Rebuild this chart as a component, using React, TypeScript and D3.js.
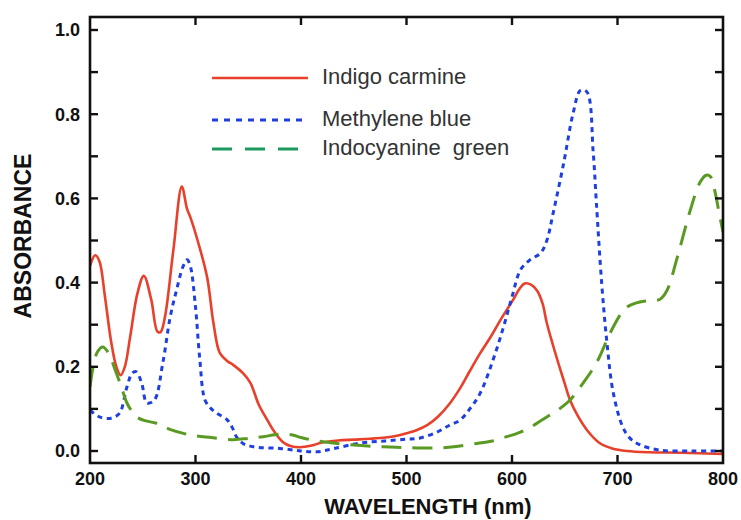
import React from "react";
import * as d3 from "d3";

// Indigo carmine absorbance spectrum
const indigoWl = [200, 205, 209, 214, 220, 225, 229, 233, 238, 245, 251, 258, 264, 267, 271, 279, 287, 292, 295, 302, 311, 317, 323, 330, 336, 345, 352, 360, 368, 375, 383, 390, 399, 410, 420, 435, 450, 465, 480, 492, 500, 510, 520, 530, 541, 551, 560, 570, 580, 589, 601, 607, 612, 618, 624, 629, 633, 639, 645, 650, 655, 662, 671, 683, 695, 709, 730, 760, 800];
const indigoAbs = [0.44, 0.465, 0.45, 0.37, 0.26, 0.2, 0.18, 0.2, 0.27, 0.375, 0.416, 0.36, 0.283, 0.283, 0.318, 0.477, 0.628, 0.575, 0.556, 0.5, 0.413, 0.304, 0.233, 0.214, 0.204, 0.185, 0.162, 0.11, 0.074, 0.045, 0.021, 0.012, 0.009, 0.013, 0.02, 0.025, 0.027, 0.029, 0.032, 0.037, 0.042, 0.05, 0.062, 0.082, 0.113, 0.15, 0.19, 0.233, 0.272, 0.311, 0.359, 0.385, 0.398, 0.395, 0.38, 0.35, 0.304, 0.25, 0.2, 0.16, 0.121, 0.085, 0.05, 0.019, 0.006, 0.0, -0.003, -0.004, -0.007];

// Methylene blue absorbance spectrum
const methyleneWl = [200, 209, 220, 228, 235, 240, 244, 249, 254, 261, 269, 276, 282, 288, 292, 295, 300, 304, 309, 315, 320, 330, 335, 339, 345, 355, 380, 400, 415, 430, 456, 480, 500, 513, 529, 540, 551, 560, 570, 582, 592, 600, 608, 617, 627, 633, 639, 649, 658, 665, 671, 677, 680, 685, 690, 696, 705, 712, 721, 740, 770, 800];
const methyleneAbs = [0.097, 0.081, 0.078, 0.09, 0.152, 0.185, 0.188, 0.161, 0.114, 0.121, 0.209, 0.318, 0.382, 0.437, 0.454, 0.44, 0.342, 0.22, 0.121, 0.1, 0.09, 0.074, 0.055, 0.033, 0.018, 0.01, 0.006, 0.0, -0.002, 0.005, 0.019, 0.024, 0.028, 0.031, 0.045, 0.06, 0.074, 0.1, 0.138, 0.216, 0.295, 0.366, 0.43, 0.454, 0.47, 0.5, 0.565, 0.684, 0.803, 0.857, 0.853, 0.708, 0.589, 0.399, 0.257, 0.138, 0.057, 0.03, 0.015, 0.002, 0.0, 0.0];

// Indocyanine green absorbance spectrum
const icgWl = [200, 203, 207, 212, 217, 224, 230, 235, 240, 244, 252, 263, 275, 295, 315, 336, 350, 364, 380, 392, 400, 415, 430, 450, 478, 500, 525, 545, 567, 580, 595, 608, 620, 633, 645, 655, 667, 680, 693, 703, 709, 721, 733, 740, 747, 756, 769, 778, 784, 788, 792, 796, 800];
const icgAbs = [0.152, 0.2, 0.235, 0.247, 0.235, 0.192, 0.15, 0.114, 0.093, 0.081, 0.072, 0.066, 0.052, 0.038, 0.032, 0.027, 0.03, 0.034, 0.04, 0.038, 0.032, 0.024, 0.019, 0.014, 0.01, 0.008, 0.007, 0.01, 0.018, 0.023, 0.034, 0.045, 0.06, 0.081, 0.1, 0.121, 0.16, 0.209, 0.28, 0.325, 0.342, 0.354, 0.358, 0.36, 0.382, 0.454, 0.572, 0.637, 0.655, 0.652, 0.62, 0.57, 0.52];

const xTickValues = [200, 300, 400, 500, 600, 700, 800];
const yMajorTicks = [0, 0.2, 0.4, 0.6, 0.8, 1.0];
const yMinorTicks = [0.1, 0.3, 0.5, 0.7, 0.9];
const seriesNames = ["Indigo carmine", "Methylene blue", "Indocyanine  green"];

const W = 741;
const H = 520;
const left = 90;
const right = 723;
const top = 17;
const bottom = 463;

export default function App() {
  const x = d3.scaleLinear().domain([200, 800]).range([left, right]);
  const y = d3.scaleLinear().domain([0, 1]).range([451, 30]);

  const line = d3
    .line<[number, number]>()
    .x((d) => x(d[0]))
    .y((d) => y(d[1]))
    .curve(d3.curveCatmullRom.alpha(0.5));

  const zip = (a: number[], b: number[]) => a.map((v, i) => [v, b[i]] as [number, number]);

  const series = [
    { name: seriesNames[0], pts: zip(indigoWl, indigoAbs), color: "#e8402a", legendColor: "#e8402a", dash: "none", legendDash: "none", width: 2.6 },
    { name: seriesNames[1], pts: zip(methyleneWl, methyleneAbs), color: "#1f3fe0", legendColor: "#1f3fe0", dash: "5 4.5", legendDash: "6 6", width: 3 },
    { name: seriesNames[2], pts: zip(icgWl, icgAbs), color: "#5a9a22", legendColor: "#1c9a5e", dash: "20 11", legendDash: "20 13", width: 3 },
  ];

  const tickLen = 8;
  const allY = [...yMajorTicks, ...yMinorTicks];
  const tickFont = "'Liberation Sans', Arial, sans-serif";

  return (
    <svg width={W} height={H} style={{ display: "block", position: "absolute", left: 0, top: 0 }}>
      <rect width={W} height={H} fill="#ffffff" />

      <defs>
        <clipPath id="plot-area">
          <rect x={left} y={top} width={right - left} height={bottom - top} />
        </clipPath>
      </defs>

      {/* spectra */}
      <g clipPath="url(#plot-area)">
        {series.map((s) => (
          <path
            key={s.name}
            d={line(s.pts) || ""}
            fill="none"
            stroke={s.color}
            strokeWidth={s.width}
            strokeDasharray={s.dash}
            strokeLinejoin="round"
          />
        ))}
      </g>

      {/* frame */}
      <rect x={left} y={top} width={right - left} height={bottom - top} fill="none" stroke="#111" strokeWidth={2.6} />

      {/* x ticks, bottom and top, pointing inward */}
      {xTickValues.slice(1, -1).map((v) => (
        <g key={"xt" + v} stroke="#111" strokeWidth={2.4}>
          <line x1={x(v)} x2={x(v)} y1={bottom} y2={bottom - tickLen} />
          <line x1={x(v)} x2={x(v)} y1={top} y2={top + tickLen} />
        </g>
      ))}

      {/* y ticks, left and right, pointing inward */}
      {allY.map((v) => (
        <g key={"yt" + v} stroke="#111" strokeWidth={2.4}>
          <line x1={left} x2={left + tickLen} y1={y(v)} y2={y(v)} />
          <line x1={right} x2={right - tickLen} y1={y(v)} y2={y(v)} />
        </g>
      ))}

      {/* tick labels */}
      {xTickValues.map((v) => (
        <text key={"xl" + v} x={x(v)} y={485} textAnchor="middle" fontFamily={tickFont} fontWeight="bold" fontSize={18} fill="#111">
          {v}
        </text>
      ))}
      {yMajorTicks.map((v) => (
        <text key={"yl" + v} x={80} y={y(v)} dy="0.36em" textAnchor="end" fontFamily={tickFont} fontWeight="bold" fontSize={18} fill="#111">
          {v.toFixed(1)}
        </text>
      ))}

      {/* axis titles */}
      <text x={428} y={514} textAnchor="middle" fontFamily={tickFont} fontWeight="bold" fontSize={22} fill="#111">
        WAVELENGTH (nm)
      </text>
      <text
        transform={`translate(31, 236) rotate(-90)`}
        textAnchor="middle"
        fontFamily={tickFont}
        fontWeight="bold"
        fontSize={23}
        fill="#111"
      >
        ABSORBANCE
      </text>

      {/* legend */}
      {series.map((s, i) => {
        const ly = [78, 120, 149][i];
        return (
          <g key={"lg" + s.name}>
            <line x1={212} x2={308} y1={ly} y2={ly} stroke={s.legendColor} strokeWidth={s.width} strokeDasharray={s.legendDash} />
            <text x={322} y={ly + 6} fontFamily={tickFont} fontSize={22} fill="#333" style={{ whiteSpace: "pre" }}>
              {s.name}
            </text>
          </g>
        );
      })}
    </svg>
  );
}
